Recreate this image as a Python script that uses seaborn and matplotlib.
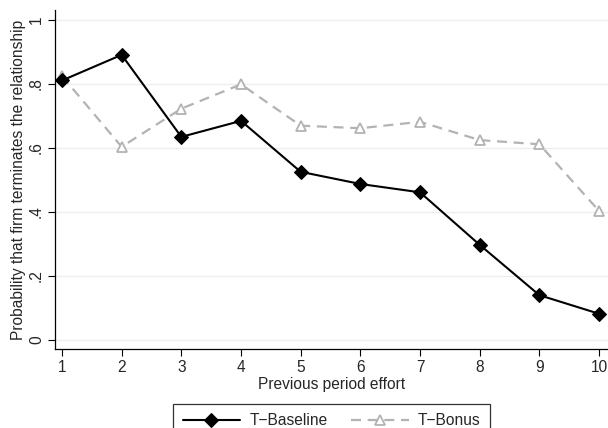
import matplotlib
matplotlib.use("Agg")
import matplotlib.pyplot as plt
import seaborn as sns
import pandas as pd

effort = [1, 2, 3, 4, 5, 6, 7, 8, 9, 10]
baseline = [0.81, 0.89, 0.634, 0.684, 0.525, 0.487, 0.461, 0.297, 0.14, 0.082]
bonus = [0.824, 0.603, 0.722, 0.798, 0.669, 0.661, 0.681, 0.624, 0.611, 0.403]
series_names = ["T\u2212Baseline", "T\u2212Bonus"]
ytick_vals = [0, 0.2, 0.4, 0.6, 0.8, 1.0]
ytick_labels = ["0", ".2", ".4", ".6", ".8", "1"]

df_base = pd.DataFrame({"effort": effort, "prob": baseline})
df_bonus = pd.DataFrame({"effort": effort, "prob": bonus})

sns.set_style("white")
plt.rcParams["font.family"] = ["Liberation Sans", "DejaVu Sans"]
FS = 11.2

fig = plt.figure(figsize=(6.08, 4.28), dpi=100)
ax = fig.add_axes([55 / 608, 79 / 428, 553 / 608, 339 / 428])

ax.set_ylim(-0.028, 1.03)
ax.set_xlim(0.883, 10.15)
for v in ytick_vals:
    ax.axhline(v, color="#e6eff1", lw=1.0, zorder=0)

sns.lineplot(data=df_bonus, x="effort", y="prob", ax=ax, color="#b3b3b3",
             linestyle=(0, (4.5, 3)), lw=1.6, marker="^", markersize=7.5,
             markerfacecolor="white", markeredgecolor="#b3b3b3", markeredgewidth=1.3,
             label=series_names[1], zorder=2)
sns.lineplot(data=df_base, x="effort", y="prob", ax=ax, color="black",
             lw=1.5, marker="D", markersize=7.5, markerfacecolor="black",
             markeredgecolor="black", label=series_names[0], zorder=3)

ax.set_xticks(effort)
ax.set_xticklabels([str(e) for e in effort], fontsize=FS)
ax.set_yticks(ytick_vals)
ax.set_yticklabels(ytick_labels, fontsize=FS, rotation=90, va="center")
ax.tick_params(axis="both", direction="out", length=5, width=0.8, color="black",
               bottom=True, left=True, pad=3)
for s in ["top", "right"]:
    ax.spines[s].set_visible(False)
for s in ["left", "bottom"]:
    ax.spines[s].set_color("black")
    ax.spines[s].set_linewidth(0.9)

ax.set_xlabel("Previous period effort", fontsize=FS, labelpad=1)
ax.set_ylabel("Probability that firm terminates the relationship", fontsize=FS, labelpad=2)

handles, labels = ax.get_legend_handles_labels()
order = [labels.index(series_names[0]), labels.index(series_names[1])]
leg = ax.legend([handles[i] for i in order], [labels[i] for i in order],
                loc="upper center", bbox_to_anchor=(0.5, -0.162), ncol=2,
                frameon=True, fancybox=False, edgecolor="black", fontsize=FS,
                handlelength=3.7, columnspacing=1.5, borderpad=0.6,
                handletextpad=0.6, borderaxespad=0)
leg.get_frame().set_linewidth(0.9)

fig.savefig("out.png", dpi=100)
